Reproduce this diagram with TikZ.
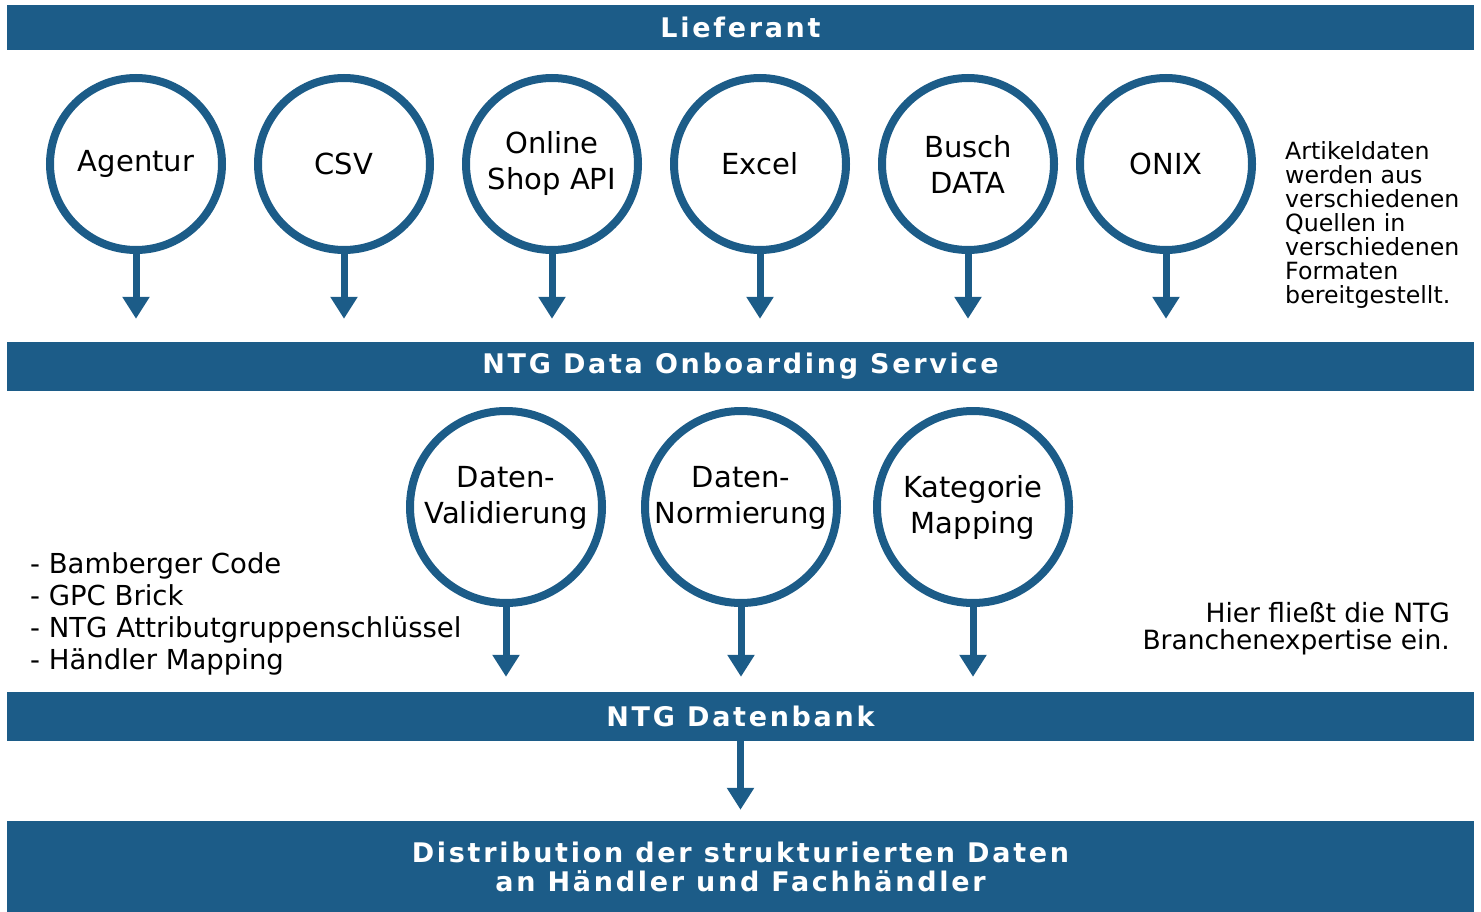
\documentclass[tikz,border=0pt]{standalone}
\usepackage{fontspec}
\setmainfont{DejaVu Sans}
\newfontfamily\barfont[LetterSpace=10]{DejaVu Sans}
\usetikzlibrary{arrows.meta}
\usetikzlibrary{positioning}
\definecolor{ntgblue}{RGB}{28,92,136}
\tikzset{
    font={\fontsize{29pt}{36pt}\selectfont},
    bar/.style={
           rectangle,
           fill=ntgblue,
           text=white,
           minimum width=1467pt,
           inner sep=0pt,
           align=center,
           font={\barfont\bfseries\fontsize{27pt}{29pt}\selectfont},
           },
    source/.style={
           circle,
           draw=ntgblue, line width=8pt,
           minimum size=172pt,
           inner sep=0pt,
           align=center,
           },
    procstate/.style={source, minimum size=192pt},
    flow/.style={draw=ntgblue, line width=7pt, -{Triangle[width=26pt,length=22pt]}},
}

\begin{document}
\begin{tikzpicture}[x=1pt,y=-1pt]
\useasboundingbox (0,0) rectangle (1481,912);

% Bars
\node[bar, minimum height=45pt] (LIEFERANT) at (740.5,27.5) {Lieferant};
\node[bar, minimum height=49pt] (ONBOARD) at (740.5,366.5) {NTG Data Onboarding Service};
\node[bar, minimum height=49pt] (DATENBANK) at (740.5,716.5) {NTG Datenbank};
\node[bar, minimum height=91pt] (DISTRIB) at (740.5,866.5) {Distribution der strukturierten Daten\\an Händler und Fachhändler};

% Sources
\node[source] (AGENTUR) at (136,164) {Agentur};
\node[source, right of=AGENTUR, node distance=208pt] (CSV) {CSV};
\node[source, right of=CSV, node distance=208pt] (SHOPAPI) {Online\\Shop API};
\node[source, right of=SHOPAPI, node distance=208pt] (EXCEL) {Excel};
\node[source, right of=EXCEL, node distance=208pt] (BUSCH) {Busch\\DATA};
\node[source, right of=BUSCH, node distance=198pt] (ONIX) {ONIX};

\node[anchor=west, align=left, inner sep=0pt,
font={\fontsize{23.7pt}{24pt}\selectfont}] (QUELLEN) at (1285,225) {%
Artikeldaten\\werden aus\\verschiedenen\\Quellen in\\verschiedenen\\Formaten\\bereitgestellt.};

% Onboarding steps
\node[procstate, label={[align=center, yshift=9pt]center:Daten-\\Validierung}] (VALID) at (506,507) {};
\node[procstate, label={[align=center, yshift=9pt]center:Daten-\\Normierung}] (NORM) at (741,507) {};
\node[procstate] (KATEGORIE) at (973,507) {Kategorie\\Mapping};

\node[anchor=west, align=left, inner sep=0pt,
font={\fontsize{27.5pt}{32pt}\selectfont}] (CODES) at (30,614) {%
- Bamberger Code\\- GPC Brick\\- NTG Attributgruppenschlüssel\\- Händler Mapping};

\node[anchor=east, align=right, inner sep=0pt,
font={\fontsize{26.5pt}{27pt}\selectfont}] (EXPERTISE) at (1450,629) {%
Hier fließt die NTG\\Branchenexpertise ein.};

\path (AGENTUR)   edge[flow, shorten >=23pt] (AGENTUR |- ONBOARD.north)
(CSV)       edge[flow, shorten >=23pt] (CSV |- ONBOARD.north)
(SHOPAPI)   edge[flow, shorten >=23pt] (SHOPAPI |- ONBOARD.north)
(EXCEL)     edge[flow, shorten >=23pt] (EXCEL |- ONBOARD.north)
(BUSCH)     edge[flow, shorten >=23pt] (BUSCH |- ONBOARD.north)
(ONIX)      edge[flow, shorten >=23pt] (ONIX |- ONBOARD.north)
(VALID)     edge[flow, shorten >=15pt] (VALID |- DATENBANK.north)
(NORM)      edge[flow, shorten >=15pt] (NORM |- DATENBANK.north)
(KATEGORIE) edge[flow, shorten >=15pt] (KATEGORIE |- DATENBANK.north)
(DATENBANK) edge[flow, shorten >=11pt] (DATENBANK |- DISTRIB.north)
;

\end{tikzpicture}
\end{document}
